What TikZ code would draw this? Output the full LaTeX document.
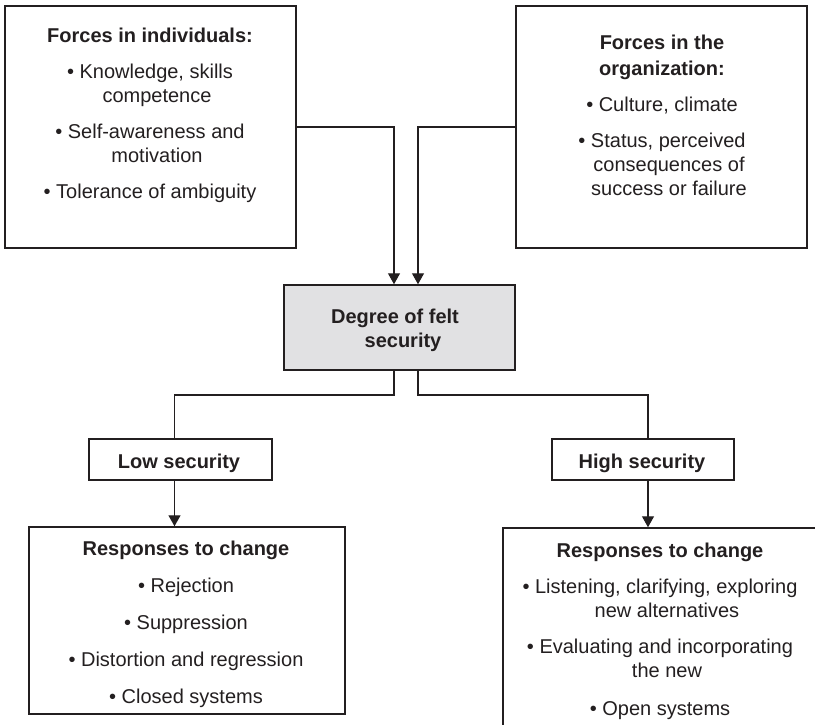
\documentclass[tikz,border=0pt]{standalone}
\usepackage{fontspec}
\setmainfont{Liberation Sans}
\usetikzlibrary{arrows.meta}
\definecolor{ink}{HTML}{231F20}
\definecolor{boxgray}{HTML}{E1E1E3}
\begin{document}
\begin{tikzpicture}[x=0.5pt,y=-0.5pt,
  box/.style={draw=ink, line width=0.75pt, rectangle, inner sep=0pt},
  txt/.style={text=ink, align=center, inner sep=0pt, font=\fontsize{10}{12}\selectfont},
  conn/.style={draw=ink, line width=0.65pt},
  arr/.style={conn, -{Triangle[length=5.5pt,width=6pt]}}]
\useasboundingbox (0,0) rectangle (815,724);
\clip (0,0) rectangle (815,724);

% boxes
\node[box, minimum width=145.5pt, minimum height=121pt] (ind) at (150.5,127) {};
\node[box, minimum width=145.5pt, minimum height=121pt] (org) at (661.5,127) {};
\node[box, fill=boxgray, minimum width=115.5pt, minimum height=42.5pt] (deg) at (399.5,327.5) {};
\node[box, minimum width=91.5pt, minimum height=20.5pt] (low) at (180.5,459.5) {};
\node[box, minimum width=91pt, minimum height=20.5pt] (high) at (643,459.5) {};
\node[box, minimum width=158pt, minimum height=93.5pt] (resl) at (187,620.5) {};
\node[box, minimum width=157.5pt, minimum height=108.5pt] (resh) at (660.5,636.5) {};

% texts
\node[txt, anchor=north] (tind) at (150,25.2)
  {\strut\textbf{Forces in individuals:}\\[6pt]
   • Knowledge, skills\\ \kern7pt competence\\[6pt]
   • Self-awareness and\\ \kern7pt motivation\\[6pt]
   • Tolerance of ambiguity};
\node[txt, anchor=north] (torg) at (662,32.2)
  {\strut\textbf{Forces in the}\\[1pt] \textbf{organization:}\\[6pt]
   • Culture, climate\\[6pt]
   • Status, perceived\\ \kern7pt consequences of\\ \kern7pt success or failure};
\node[txt, anchor=north, font=\fontsize{10}{12}\selectfont\bfseries] (tdeg) at (395,306.2)
  {\strut Degree of felt\\ \kern8pt security};
\node[txt, anchor=base, font=\fontsize{10}{12}\selectfont\bfseries] (tlow) at (179,468) {Low security};
\node[txt, anchor=base, font=\fontsize{10}{12}\selectfont\bfseries] (thigh) at (642,468) {High security};
\node[txt, anchor=north] (tresl) at (186,538.2)
  {\strut\textbf{Responses to change}\\[6.5pt]
   • Rejection\\[6.5pt]
   • Suppression\\[6.5pt]
   • Distortion and regression\\[6.5pt]
   • Closed systems};
\node[txt, anchor=north] (tresh) at (660,540.2)
  {\strut\textbf{Responses to change}\\[6pt]
   • Listening, clarifying, exploring\\ \kern7pt new alternatives\\[6pt]
   • Evaluating and incorporating\\ \kern7pt the new\\[7pt]
   • Open systems};

% connector x positions
\coordinate (xa) at (394,0);
\coordinate (xb) at (418,0);
\coordinate (xl) at (174.5,0);
\coordinate (xh) at (648,0);
\coordinate (ym) at (0,127);
\coordinate (yd) at (0,395);

\draw[arr] (ind.east |- ym) -| (xa |- deg.north);
\draw[arr] (org.west |- ym) -| (xb |- deg.north);
\draw[conn] (xa |- deg.south) -- (xa |- yd) -| (xl |- low.north);
\draw[conn] (xb |- deg.south) -- (xb |- yd) -| (xh |- high.north);
\draw[arr] (xl |- low.south) -- (xl |- resl.north);
\draw[arr] (xh |- high.south) -- (xh |- resh.north);
\end{tikzpicture}
\end{document}
